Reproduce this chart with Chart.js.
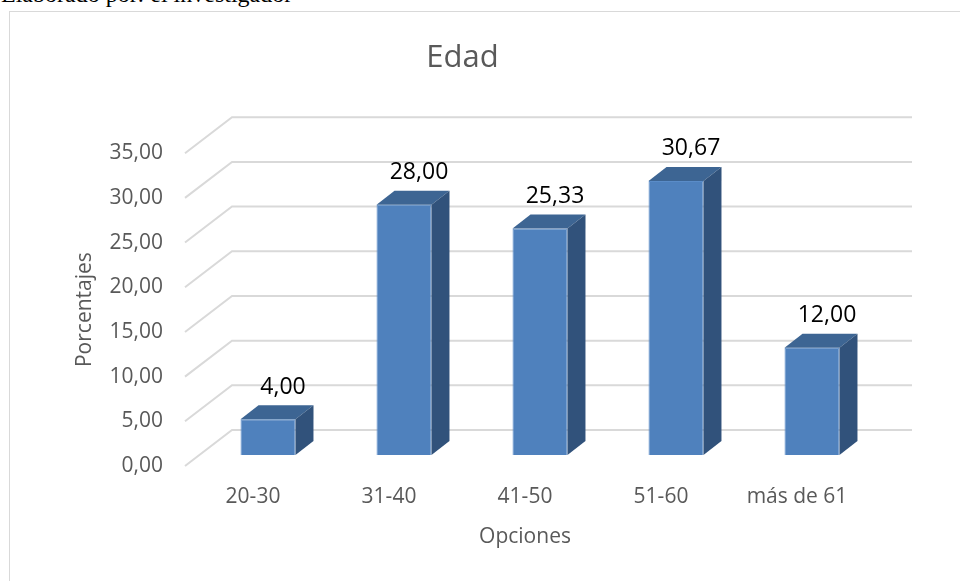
<!DOCTYPE html>
<html>
<head>
<meta charset="utf-8">
<script src="https://cdn.jsdelivr.net/npm/chart.js@4"></script>
<style>
    body { margin: 0; background: #fff; overflow: hidden; }
    #wrap { position: relative; width: 960px; height: 581px; }
    #note { position: absolute; left: 1px; top: -19px; font-family: "Liberation Serif", "Times New Roman", serif; font-size: 24px; color: #000; white-space: nowrap; }
    #frame { position: absolute; left: 9px; top: 11px; width: 980px; height: 600px; border: 1px solid #d9d9d9; box-sizing: border-box; }
    #myChart { position: absolute; left: 0; top: 0; }
</style>
</head>
<body>
<div id="wrap">
    <div id="note">Elaborado por: el investigador</div>
    <div id="frame"></div>
    <canvas id="myChart" width="960" height="581"></canvas>
</div>
<script>
// data
var categories = ["20-30", "31-40", "41-50", "51-60", "más de 61"];
var percentages = [4.00, 28.00, 25.33, 30.67, 12.00];
var yTicks = [0, 5, 10, 15, 20, 25, 30, 35];

//3d look
var wallDx = 47, wallDy = 36;     // back wall offset
var barDx = 15, barDy = 11;       // bar front offset from front edge
var depthDx = 18, depthDy = 14;   // bar depth

function fmt(v) {
    return v.toFixed(2).replace('.', ',');
}

var threeD = {
    id: 'threeD',
    beforeDatasetsDraw(chart) {
        var ctx = chart.ctx;
        var area = chart.chartArea;
        var y = chart.scales.y;
        ctx.save();
        ctx.strokeStyle = '#d9d9d9';
        ctx.lineWidth = 2;
        yTicks.forEach(function (t) {
            var py = y.getPixelForValue(t);
            ctx.beginPath();
            ctx.moveTo(area.left, py);
            ctx.lineTo(area.left + wallDx, py - wallDy);
            ctx.lineTo(area.right + wallDx, py - wallDy);
            ctx.stroke();
        });
        ctx.restore();
    },
    beforeDatasetDraw(chart) {
        chart.ctx.save();
        chart.ctx.translate(barDx, -barDy);
    },
    afterDatasetDraw(chart) {
        chart.ctx.restore();
    },
    afterDatasetsDraw(chart) {
        var ctx = chart.ctx;
        var meta = chart.getDatasetMeta(0);
        ctx.save();
        meta.data.forEach(function (bar, i) {
            var l = bar.x - bar.width / 2 + barDx;
            var r = bar.x + bar.width / 2 + barDx;
            var t = bar.y - barDy;
            var b = bar.base - barDy;
            //top
            ctx.fillStyle = '#3d6593';
            ctx.beginPath();
            ctx.moveTo(l, t);
            ctx.lineTo(l + depthDx, t - depthDy);
            ctx.lineTo(r + depthDx, t - depthDy);
            ctx.lineTo(r, t);
            ctx.closePath();
            ctx.fill();
            //side
            ctx.fillStyle = '#31527b';
            ctx.beginPath();
            ctx.moveTo(r, t);
            ctx.lineTo(r + depthDx, t - depthDy);
            ctx.lineTo(r + depthDx, b - depthDy);
            ctx.lineTo(r, b);
            ctx.closePath();
            ctx.fill();
            //value label
            ctx.fillStyle = '#000';
            ctx.font = '23px "Open Sans"';
            ctx.textAlign = 'center';
            ctx.textBaseline = 'middle';
            ctx.fillText(fmt(percentages[i]), bar.x + barDx + 15, bar.y - 43);
        });
        ctx.restore();
    }
};

var data = {
    labels: categories,
    datasets: [{
        label: 'Edad',
        data: percentages,
        backgroundColor: '#4f81bd',
        borderColor: '#5a8cc8',
        borderWidth: 1,
        categoryPercentage: 1,
        barPercentage: 0.404,
        clip: false
    }]
};

var config = {
    type: 'bar',
    data: data,
    options: {
        responsive: false,
        animation: false,
        devicePixelRatio: 1,
        layout: { padding: { left: 60, right: 95, top: 0, bottom: 0 } },
        plugins: {
            legend: { display: false },
            tooltip: { enabled: false },
            title: {
                display: true,
                text: 'Edad',
                color: '#595959',
                font: { family: 'Open Sans', size: 31, weight: 'normal' },
                padding: { top: 40, bottom: 76 }
            }
        },
        scales: {
            x: {
                grid: { display: false, drawTicks: false },
                border: { display: false },
                ticks: {
                    color: '#595959',
                    font: { family: 'Open Sans', size: 21 },
                    padding: 18,
                    maxRotation: 0
                },
                title: {
                    display: true,
                    text: 'Opciones',
                    color: '#595959',
                    font: { family: 'Open Sans', size: 21 },
                    padding: { top: 0, bottom: 31 }
                },
                afterFit(scale) { scale.height = 115; }
            },
            y: {
                min: 0,
                max: 35,
                grid: { display: false, drawTicks: false },
                border: { display: false },
                ticks: {
                    stepSize: 5,
                    color: '#595959',
                    font: { family: 'Open Sans', size: 21 },
                    padding: 22,
                    callback: function (v) { return fmt(v); }
                },
                title: {
                    display: true,
                    text: 'Porcentajes',
                    color: '#595959',
                    font: { family: 'Open Sans', size: 21 },
                    padding: { top: 12, bottom: 0 }
                },
                afterFit(scale) { scale.width = 125; }
            }
        }
    },
    plugins: [threeD]
};

var myChart = new Chart(document.getElementById('myChart'), config);
</script>
</body>
</html>
